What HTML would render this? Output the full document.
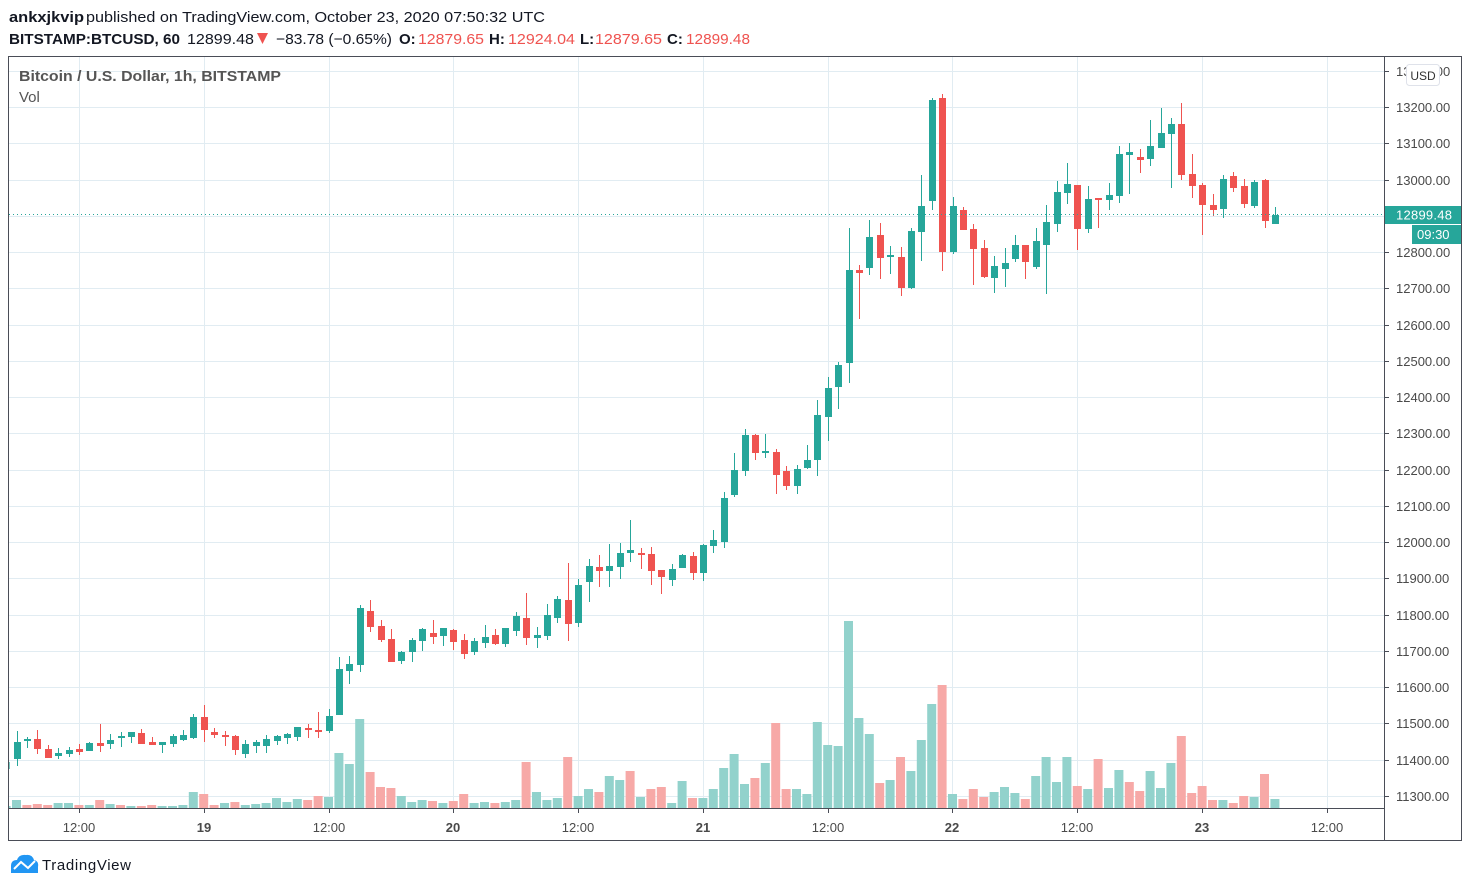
<!DOCTYPE html>
<html><head><meta charset="utf-8"><style>
html,body{margin:0;padding:0;background:#fff;width:1470px;height:888px;overflow:hidden}
svg{display:block}
text{font-family:"Liberation Sans",sans-serif}
</style></head><body>
<svg id="s" width="1470" height="888" viewBox="0 0 1470 888" xmlns="http://www.w3.org/2000/svg">
<defs><clipPath id="cp"><rect x="9" y="57" width="1375" height="751"/></clipPath></defs>
<rect width="1470" height="888" fill="#fff"/>
<g id="grid" stroke="#e1ecf2" stroke-width="1"></g>
<g id="vol" clip-path="url(#cp)"></g>
<g id="cdl" clip-path="url(#cp)"></g>
<line x1="9" y1="214.5" x2="1384" y2="214.5" stroke="#26a69a" stroke-width="1" stroke-dasharray="1,3"/>
<rect x="8.5" y="56.5" width="1453" height="784" fill="none" stroke="#4a4d57" stroke-width="1"/>
<line x1="1384.5" y1="56" x2="1384.5" y2="841" stroke="#4a4d57"/>
<line x1="8" y1="808.5" x2="1384" y2="808.5" stroke="#4a4d57"/>
<g id="ticks" stroke="#4a4d57"></g>
<g font-size="15" fill="#131722">
<text x="9" y="22" font-weight="bold" textLength="75" lengthAdjust="spacingAndGlyphs">ankxjkvip</text>
<text x="86" y="22" textLength="459" lengthAdjust="spacingAndGlyphs">published on TradingView.com, October 23, 2020 07:50:32 UTC</text>
<text x="9" y="44" font-weight="bold" textLength="171" lengthAdjust="spacingAndGlyphs">BITSTAMP:BTCUSD, 60</text>
<text x="187" y="44" textLength="67" lengthAdjust="spacingAndGlyphs">12899.48</text>
<text x="276" y="44" textLength="116" lengthAdjust="spacingAndGlyphs">−83.78 (−0.65%)</text>
<text x="399" y="44" font-weight="bold">O:</text><text x="418" y="44" fill="#ef5350" textLength="66" lengthAdjust="spacingAndGlyphs">12879.65</text>
<text x="489" y="44" font-weight="bold">H:</text><text x="508" y="44" fill="#ef5350" textLength="67" lengthAdjust="spacingAndGlyphs">12924.04</text>
<text x="580" y="44" font-weight="bold">L:</text><text x="595" y="44" fill="#ef5350" textLength="67" lengthAdjust="spacingAndGlyphs">12879.65</text>
<text x="667" y="44" font-weight="bold">C:</text><text x="686" y="44" fill="#ef5350" textLength="64" lengthAdjust="spacingAndGlyphs">12899.48</text>
</g>
<polygon points="257,33 268,33 262.5,44" fill="#ef5350"/>
<text x="19" y="81" font-size="15" font-weight="bold" fill="#555" textLength="262" lengthAdjust="spacingAndGlyphs">Bitcoin / U.S. Dollar, 1h, BITSTAMP</text>
<text x="19" y="102" font-size="15" fill="#555">Vol</text>
<g id="plab" font-size="13" fill="#4a4a4a"></g>
<rect x="1406.5" y="64.5" width="33" height="21" rx="3" fill="#fff" stroke="#dfe2ea"/>
<text x="1423" y="80" font-size="12" fill="#333" text-anchor="middle">USD</text>
<rect x="1385" y="206" width="76" height="18" fill="#26a69a"/>
<text x="1396" y="219.5" font-size="13" fill="#fff" textLength="56">12899.48</text>
<rect x="1412" y="225" width="49" height="19" fill="#26a69a"/>
<text x="1417" y="239" font-size="13" fill="#fff">09:30</text>
<g font-size="13" fill="#4a4a4a" text-anchor="middle">
<text x="79" y="832">12:00</text><text x="204" y="832" font-weight="bold">19</text>
<text x="329" y="832">12:00</text><text x="453" y="832" font-weight="bold">20</text>
<text x="578" y="832">12:00</text><text x="703" y="832" font-weight="bold">21</text>
<text x="828" y="832">12:00</text><text x="952" y="832" font-weight="bold">22</text>
<text x="1077" y="832">12:00</text><text x="1202" y="832" font-weight="bold">23</text>
<text x="1327" y="832">12:00</text>
</g>
<path d="M11,873 L11,866 Q11,860 17,860 Q19,854 26,855 Q32,854 34,860 Q39,861 38,867 L38,873 Z" fill="#2196f3"/>
<polyline points="14,869 21,862 28,868 35,861" fill="none" stroke="#fff" stroke-width="2"/>
<text x="42" y="870" font-size="15" fill="#131722" textLength="89">TradingView</text>
</svg>
<script>
(function(){
var NS="http://www.w3.org/2000/svg";
function el(p,t,a){var e=document.createElementNS(NS,t);for(var k in a)e.setAttribute(k,a[k]);p.appendChild(e);return e;}
var grid=document.getElementById('grid');
var tx=[79,204,329,453,578,703,828,952,1077,1202,1327];
tx.forEach(function(x){el(grid,'line',{x1:x+.5,y1:57,x2:x+.5,y2:808});});
var plab=document.getElementById('plab'),ticks=document.getElementById('ticks');
tx.forEach(function(x){el(ticks,'line',{x1:x+.5,y1:808,x2:x+.5,y2:813});});
for(var p=11300;p<=13300;p+=100){var y=796-(p-11300)*0.36263;var yy=Math.round(y)+.5;
 el(grid,'line',{x1:9,y1:yy,x2:1384,y2:yy});
 el(ticks,'line',{x1:1384,y1:yy,x2:1389,y2:yy});
 var t=el(plab,'text',{x:1396,y:Math.round(y)+5});t.textContent=p+'.00';}
var C=[[759,742,731,766],[740,739,737,748],[739,749,730,754],[749,758,745,758],[756,753,748,759],[754,750,747,757],[749,752,744,755],[751,743,742,751],[743,746,724,752],[744,740,734,749],
[737,736,732,747],[737,732,732,743],[733,744,729,744],[742,745,737,745],[745,742,742,753],[744,736,734,747],[740,735,730,741],[738,717,714,739],[717,730,705,742],[732,735,728,738],
[735,737,731,746],[736,750,735,755],[754,744,740,758],[746,742,740,753],[746,739,735,753],[741,736,735,745],[738,734,733,744],[737,727,727,741],[728,730,724,738],[730,732,712,738],
[731,716,709,733],[715,669,657,715],[671,664,656,684],[665,608,605,672],[611,627,600,632],[626,640,620,642],[639,662,629,662],[661,652,651,664],[652,640,638,662],[641,629,628,651],
[633,637,620,644],[636,628,628,646],[630,642,629,650],[640,654,634,659],[652,641,638,655],[643,637,625,648],[635,644,629,645],[644,628,628,647],[631,616,612,636],[618,638,593,645],
[638,635,627,648],[636,615,604,640],[618,599,596,623],[600,624,563,641],[623,585,579,627],[582,566,559,602],[567,571,555,587],[571,566,544,587],[567,553,543,579],[553,550,520,562],
[553,555,548,569],[554,571,547,585],[570,577,570,594],[580,569,564,586],[568,555,554,568],[556,573,552,580],[573,545,544,581],[546,540,530,553],[542,498,492,548],[495,470,453,497],
[471,435,429,476],[435,453,434,460],[452,451,434,458],[452,475,449,494],[471,486,466,490],[486,469,465,494],[468,460,445,469],[460,415,400,476],[417,388,377,441],[387,365,362,409],
[363,270,228,383],[270,273,265,319],[268,237,220,275],[235,258,223,279],[256,255,246,274],[257,288,247,296],[288,231,228,289],[232,206,175,261],[201,100,98,210],[98,252,94,271],
[252,206,197,254],[210,230,207,230],[229,249,224,285],[248,277,240,278],[278,266,256,293],[269,263,248,287],[259,245,235,262],[245,262,245,279],[267,241,228,269],[245,222,205,294],
[224,192,181,232],[193,184,163,204],[185,229,185,250],[229,199,186,233],[198,200,198,228],[200,195,183,210],[196,154,146,203],[155,152,143,194],[157,160,149,173],[159,146,120,166],
[148,133,108,148],[134,124,118,188],[124,175,103,180],[174,186,154,198],[185,205,183,235],[205,210,194,216],[209,179,175,218],[176,188,172,192],[186,204,179,208],[206,182,180,208],
[180,221,179,228],[224,215,207,224]];
var V="800g805r804r805r803g803g805r805g800r804g805r806g806r805r806g806g805g792g794r805r803g802r805g804g803g798g802g799g800r796r797g753g764g719g772r787r788r796g802g800g801r803g801r794r803g802g803r802g800g762r792g800g798g757r796g789g792r776g780g771r797g789r787r803g781g798r798g789g768g754g784g778r763g723r789r789g794g722g745g746g621g718g734g783r780g757r771g740g704g685r794g799r789r797r792g787g793g799r776g757g782g757g786r789g759r788g770g782r791r771g788g763g736r793r786r800r800g803r796r797g774r799g";
var vol=document.getElementById('vol'),cdl=document.getElementById('cdl');
var vs=V.match(/\d+[gr]/g);
el(vol,'rect',{x:1.6,y:806,width:9,height:2,fill:'#92d2cc'});
el(cdl,'line',{x1:6.5,y1:758,x2:6.5,y2:772,stroke:'#26a69a'});
el(cdl,'rect',{x:2.6,y:762,width:7,height:7,fill:'#26a69a'});
for(var i=0;i<C.length;i++){
 var x=16.5+10.4*i,c=C[i];
 var g=c[1]<c[0];var col=g?'#26a69a':'#ef5350';
 var v=vs[i];var vt=parseInt(v,10);var vc=v.slice(-1)=='g'?'#92d2cc':'#f7a9a7';
 el(vol,'rect',{x:(x-4.5).toFixed(1),y:vt,width:9,height:808-vt,fill:vc});
 var xl=Math.round(x)+.5;
 el(cdl,'line',{x1:xl,y1:c[2],x2:xl,y2:c[3],stroke:col,'stroke-width':1});
 var bt=Math.min(c[0],c[1]),bh=Math.max(2,Math.abs(c[0]-c[1]));
 el(cdl,'rect',{x:Math.round(x)-3,y:bt,width:7,height:bh,fill:col});
}
})();
</script>
</body></html>
